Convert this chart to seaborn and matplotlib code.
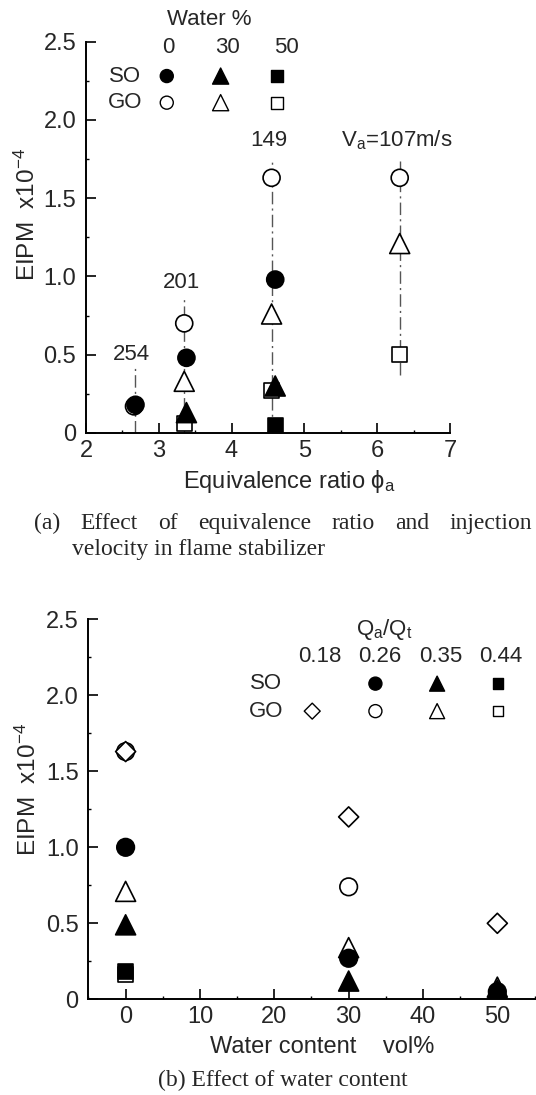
import numpy as np
import pandas as pd
import seaborn as sns
import matplotlib.pyplot as plt
from matplotlib.ticker import MultipleLocator

sns.set_style('ticks')
plt.rcParams['font.family'] = ['Liberation Sans', 'DejaVu Sans']
plt.rcParams['mathtext.default'] = 'regular'

# ---------------- (a) EIPM x10^-4 vs equivalence ratio ----------------
phi_go_0 = [2.66, 3.35, 4.55, 6.31]
eipm_go_0 = [0.17, 0.70, 1.63, 1.63]
phi_go_30 = [3.35, 4.55, 6.31]
eipm_go_30 = [0.33, 0.76, 1.21]
phi_go_50 = [3.35, 4.55, 6.31]
eipm_go_50 = [0.06, 0.27, 0.50]
phi_so_0 = [2.68, 3.38, 4.60]
eipm_so_0 = [0.18, 0.48, 0.98]
phi_so_30 = [3.38, 4.60]
eipm_so_30 = [0.13, 0.30]
phi_so_50 = [4.60]
eipm_so_50 = [0.05]

# injection velocity groups and their guide lines
va_phi = [2.67, 3.35, 4.55, 6.31]
va_text = ['254', '201', '149', 'V$_a$=107m/s']
va_text_y = [0.50, 0.96, 1.87, 1.87]
va_lo = [0, 0, 0, 0.37]
va_hi = [0.42, 0.87, 1.74, 1.74]

water_levels = ['0', '30', '50']

# ---------------- (b) EIPM x10^-4 vs water content ----------------
qa_levels = ['0.18', '0.26', '0.35', '0.44']
w_go_026 = [0, 30]
e_go_026 = [1.63, 0.74]
w_go_018 = [0, 30, 50]
e_go_018 = [1.63, 1.20, 0.50]
w_go_035 = [0, 30, 50]
e_go_035 = [0.71, 0.34, 0.08]
w_go_044 = [0]
e_go_044 = [0.165]
w_so_026 = [0, 30, 50]
e_so_026 = [1.00, 0.27, 0.05]
w_so_035 = [0, 30, 50]
e_so_035 = [0.49, 0.12, 0.06]
w_so_044 = [0]
e_so_044 = [0.18]


def frame(parts):
    rows = []
    for fuel, grp, xs, ys in parts:
        for x, y in zip(xs, ys):
            rows.append({'fuel': fuel, 'grp': grp, 'x': x, 'y': y})
    return pd.DataFrame(rows)


dfa = frame([('GO', '0', phi_go_0, eipm_go_0), ('GO', '30', phi_go_30, eipm_go_30),
             ('GO', '50', phi_go_50, eipm_go_50), ('SO', '0', phi_so_0, eipm_so_0),
             ('SO', '30', phi_so_30, eipm_so_30), ('SO', '50', phi_so_50, eipm_so_50)])
dfb = frame([('GO', '0.26', w_go_026, e_go_026), ('GO', '0.18', w_go_018, e_go_018),
             ('GO', '0.35', w_go_035, e_go_035), ('GO', '0.44', w_go_044, e_go_044),
             ('SO', '0.26', w_so_026, e_so_026), ('SO', '0.35', w_so_035, e_so_035),
             ('SO', '0.44', w_so_044, e_so_044)])

fill = {'SO': 'black', 'GO': 'white'}
mk_a = {'0': 'o', '30': '^', '50': 's'}
sz_a = {'0': 150, '30': 207, '50': 112}
mk_b = {'0.18': 'D', '0.26': 'o', '0.35': '^', '0.44': 's'}
sz_b = {'0.18': 104, '0.26': 160, '0.35': 207, '0.44': 115}

fig = plt.figure(figsize=(5.36, 10.95), dpi=100)
ax1 = fig.add_axes([0.1604, 0.6046, 0.679, 0.3574])
ax2 = fig.add_axes([0.165, 0.0874, 0.835, 0.347])

FS_TICK = 17
FS_TXT = 16


def style(ax, xmin, xmaj, ymaj=0.5):
    ax.set_ylim(0, 2.5)
    ax.set_yticks(np.arange(0, 2.51, ymaj))
    ax.set_yticklabels(['0', '0.5', '1.0', '1.5', '2.0', '2.5'])
    ax.xaxis.set_major_locator(MultipleLocator(xmaj))
    ax.xaxis.set_minor_locator(MultipleLocator(xmin))
    ax.yaxis.set_minor_locator(MultipleLocator(0.25))
    ax.tick_params(which='major', direction='in', length=7, width=1.2,
                   labelsize=FS_TICK, color='black')
    ax.tick_params(which='minor', direction='in', length=2.5, width=1, color='black')
    ax.tick_params(axis='y', which='major', pad=7)
    ax.tick_params(axis='x', which='major', pad=5)
    sns.despine(ax=ax)
    for s in ['left', 'bottom']:
        ax.spines[s].set_linewidth(1.4)
        ax.spines[s].set_color('black')


# ---- panel (a)
ax1.vlines(va_phi, va_lo, va_hi, colors='#555555', linewidth=1,
           linestyles=(0, (9, 3, 1.5, 3)), zorder=1)
sns.scatterplot(data=dfa, x='x', y='y', hue='fuel', palette=fill, style='grp',
                markers=mk_a, size='grp', sizes=sz_a, edgecolor='black',
                linewidth=1.2, legend=False, ax=ax1, zorder=3)
for px, lab, ty in zip(va_phi, va_text, va_text_y):
    ax1.text(px - 0.04, ty, lab, ha='center', va='center', fontsize=FS_TXT)

ax1.set_xlim(2, 7)
style(ax1, 0.5, 1)

# legend block for (a)
leg_x_a = [3.11, 3.85, 4.62]
ax1.text(3.69, 2.64, 'Water %', ha='center', va='center', fontsize=FS_TXT, clip_on=False)
for xx, lab in zip([3.13, 3.94, 4.75], water_levels):
    ax1.text(xx, 2.46, lab, ha='center', va='center', fontsize=FS_TXT)
ax1.text(2.54, 2.28, 'SO', ha='center', va='center', fontsize=FS_TXT)
ax1.text(2.54, 2.11, 'GO', ha='center', va='center', fontsize=FS_TXT)
leg_a = pd.DataFrame({'x': leg_x_a * 2, 'y': [2.28] * 3 + [2.11] * 3,
                      'fuel': ['SO'] * 3 + ['GO'] * 3, 'grp': water_levels * 2})
sns.scatterplot(data=leg_a, x='x', y='y', hue='fuel', palette=fill, style='grp',
                markers=mk_a, size='grp', sizes={'0': 88, '30': 135, '50': 74},
                edgecolor='black', linewidth=1.0, legend=False, ax=ax1, zorder=3)

ax1.set_xlabel('Equivalence ratio ϕ$_a$', fontsize=17)
ax1.xaxis.label.set_va('center')
ax1.xaxis.set_label_coords(0.558, -0.125)
ax1.set_ylabel('EIPM  x10$^{-4}$', fontsize=17.5)
ax1.yaxis.label.set_va('center')
ax1.yaxis.set_label_coords(-0.162, 0.557)

# ---- panel (b)
sns.scatterplot(data=dfb, x='x', y='y', hue='fuel', palette=fill, style='grp',
                markers=mk_b, size='grp', sizes=sz_b, edgecolor='black',
                linewidth=1.2, legend=False, ax=ax2, zorder=3)
ax2.set_xlim(-5, 55.2)
style(ax2, 5, 10)

ax2.text(34.8, 2.43, 'Q$_a$/Q$_t$', ha='center', va='center', fontsize=FS_TXT)
for xx, lab in zip([26.1, 34.2, 42.4, 50.5], qa_levels):
    ax2.text(xx, 2.253, lab, ha='center', va='center', fontsize=FS_TXT)
ax2.text(18.9, 2.077, 'SO', ha='center', va='center', fontsize=FS_TXT)
ax2.text(18.9, 1.896, 'GO', ha='center', va='center', fontsize=FS_TXT)
leg_b = pd.DataFrame({'x': [33.6, 41.9, 50.1, 25.1, 33.6, 41.9, 50.1],
                      'y': [2.077] * 3 + [1.896] * 4,
                      'fuel': ['SO'] * 3 + ['GO'] * 4,
                      'grp': qa_levels[1:] + qa_levels})
sns.scatterplot(data=leg_b, x='x', y='y', hue='fuel', palette=fill, style='grp',
                markers=mk_b, size='grp',
                sizes={'0.18': 66, '0.26': 88, '0.35': 117, '0.44': 59},
                edgecolor='black', linewidth=1.0, legend=False, ax=ax2, zorder=3)

ax2.set_xlabel('Water content    vol%', fontsize=17)
ax2.xaxis.label.set_va('center')
ax2.xaxis.set_label_coords(0.523, -0.125)
ax2.set_ylabel('EIPM  x10$^{-4}$', fontsize=17.5)
ax2.yaxis.label.set_va('center')
ax2.yaxis.set_label_coords(-0.135, 0.553)

# ---- captions (Times-like), first one justified
cap_kw = dict(fontsize=17, family=['Liberation Serif', 'DejaVu Serif'], va='center')
words = ['(a)', 'Effect', 'of', 'equivalence', 'ratio', 'and', 'injection']
rend = fig.canvas.get_renderer()
txts = [fig.text(0, 1 - 523 / 1095, w, ha='left', **cap_kw) for w in words]
wid = [t.get_window_extent(rend).width / fig.bbox.width for t in txts]
x0, x1 = 34 / 536, 532 / 536
gap = (x1 - x0 - sum(wid)) / (len(words) - 1)
pos = x0
for t, w in zip(txts, wid):
    t.set_x(pos)
    pos += w + gap
fig.text(72 / 536, 1 - 550 / 1095, 'velocity in flame stabilizer', ha='left', **cap_kw)
fig.text(282.6 / 536, 1 - 1080.7 / 1095, '(b) Effect of water content', ha='center', **cap_kw)

fig.savefig('out.png', dpi=100, facecolor='white')
